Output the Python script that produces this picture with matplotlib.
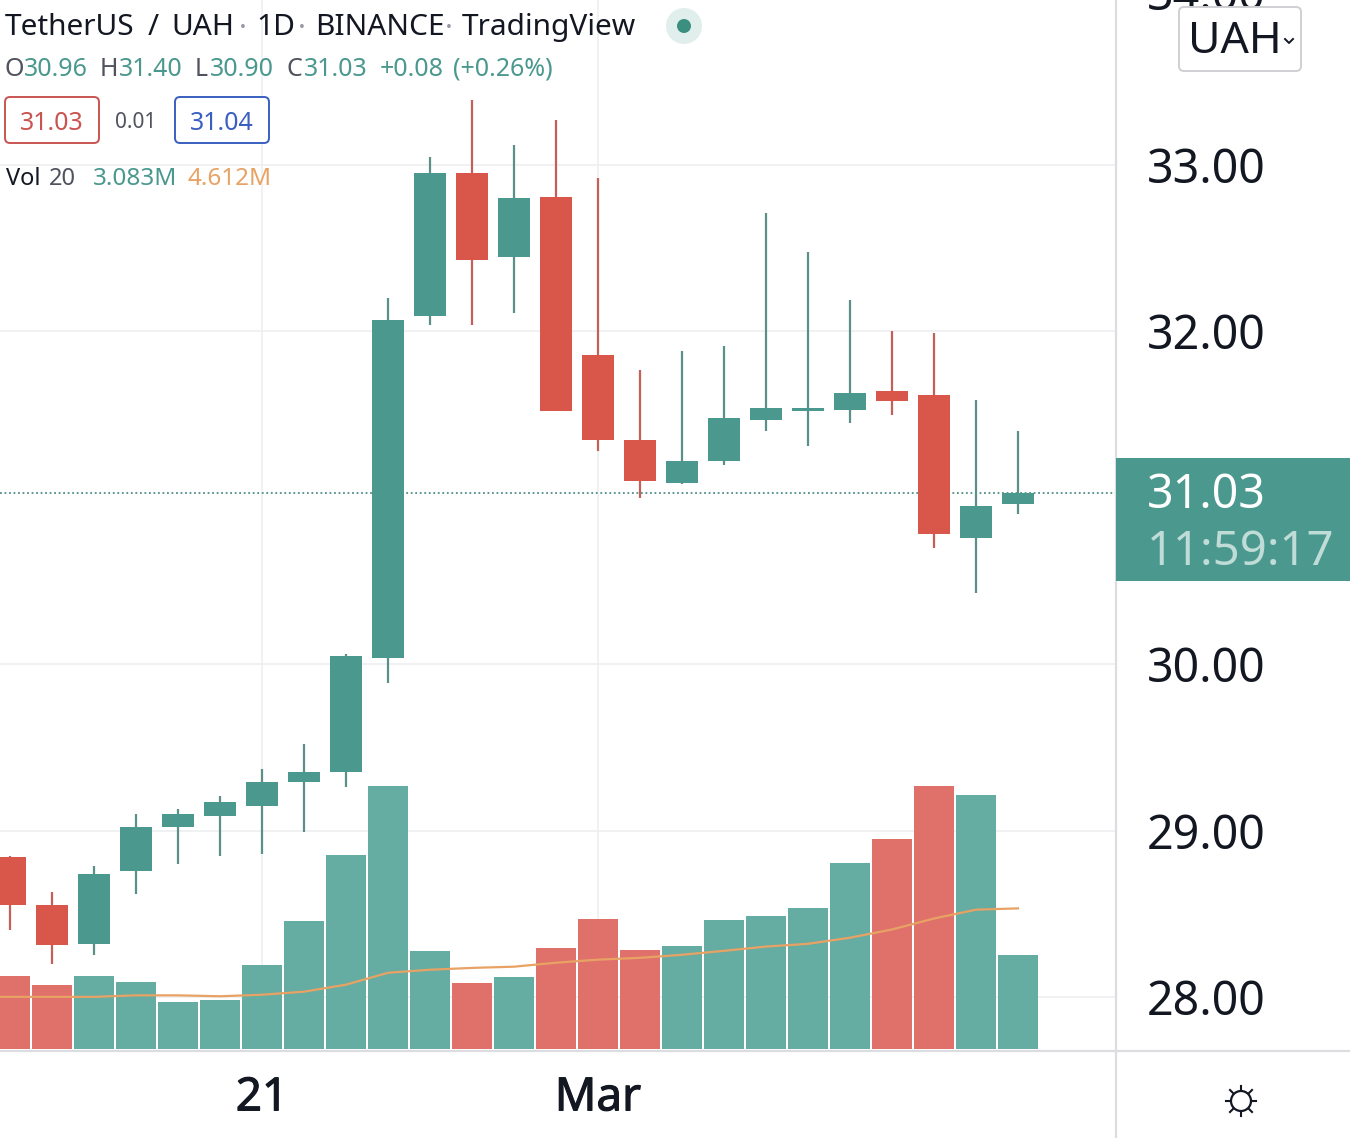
import matplotlib
matplotlib.use("Agg")
import matplotlib.pyplot as plt
import matplotlib.patheffects as pe
from matplotlib.lines import Line2D
from matplotlib.patches import FancyBboxPatch, Rectangle, Circle

plt.rcParams['font.family'] = ['Noto Sans', 'DejaVu Sans']

# -------------------------------
# Data
# -------------------------------
opens = [28.84, 28.55, 28.32, 28.76, 29.02, 29.09, 29.15, 29.29, 29.35, 30.04, 32.09, 32.95, 32.45,
         32.81, 31.86, 31.35, 31.09, 31.22, 31.47, 31.52, 31.53, 31.64, 31.62, 30.76, 30.96]
closes = [28.55, 28.31, 28.74, 29.02, 29.10, 29.17, 29.29, 29.35, 30.05, 32.07, 32.95, 32.43, 32.80,
          31.52, 31.35, 31.10, 31.22, 31.48, 31.54, 31.54, 31.63, 31.58, 30.78, 30.95, 31.03]
highs = [28.85, 28.63, 28.79, 29.10, 29.13, 29.21, 29.37, 29.52, 30.06, 32.20, 33.05, 33.39, 33.12,
         33.27, 32.92, 31.77, 31.88, 31.91, 32.71, 32.48, 32.19, 32.00, 31.99, 31.59, 31.40]
lows = [28.40, 28.20, 28.25, 28.62, 28.80, 28.85, 28.86, 28.99, 29.26, 29.89, 32.04, 32.04, 32.11,
        31.52, 31.28, 31.00, 31.08, 31.20, 31.40, 31.31, 31.45, 31.50, 30.70, 30.43, 30.90]
volumes = [2.39, 2.10, 2.39, 2.20, 1.54, 1.61, 2.75, 4.20, 6.36, 8.63, 3.21, 2.16, 2.36,
           3.31, 4.26, 3.25, 3.38, 4.23, 4.36, 4.62, 6.10, 6.89, 8.63, 8.33, 3.083]
# starts one day earlier, the line runs off the left edge
vol_ma = [1.71, 1.71, 1.71, 1.71, 1.76, 1.76, 1.73, 1.78, 1.88, 2.11, 2.50, 2.60, 2.66, 2.70,
          2.83, 2.93, 2.99, 3.09, 3.22, 3.36, 3.45, 3.65, 3.92, 4.28, 4.57, 4.612]

price_ticks = [28, 29, 30, 32, 33]
price_labels = ["28.00", "29.00", "30.00", "32.00", "33.00"]
date_ticks = [6, 14]
date_labels = ["21", "Mar"]

GREEN = "#4a988e"
RED = "#d9564a"
GREEN_WICK = "#5b9089"
RED_WICK = "#c4605a"
GREEN_VOL = "#65aca2"
RED_VOL = "#e0706a"
ORANGE = "#e8a264"
GRID = "#eeeff1"
LINE = "#dcdde0"
DARK = "#131722"
GREY = "#50535e"

fig = plt.figure(figsize=(13.5, 11.38), dpi=100)

# -------------------------------
# Candles
# -------------------------------
ax = fig.add_axes([0, 1 - 1049 / 1138, 1116 / 1350, 1049 / 1138])
xs = list(range(len(opens)))
up = [c >= o for o, c in zip(opens, closes)]

ax.vlines(xs, lows, highs, colors=[GREEN_WICK if u else RED_WICK for u in up], linewidth=1.6, zorder=3)
ax.bar(xs, [abs(c - o) for o, c in zip(opens, closes)], bottom=[min(o, c) for o, c in zip(opens, closes)],
       width=32 / 42, color=[GREEN if u else RED for u in up], zorder=4)
ax.axhline(closes[-1], color="#4f8f88", linestyle=(0, (1, 1.5)), linewidth=1.3, zorder=2)

ax.set_xlim(-10 / 42, 1106 / 42)
ax.set_ylim(33 - 884 / 166.4, 33 + 165 / 166.4)
ax.set_xticks(date_ticks, date_labels)
ax.tick_params(axis='x', length=0, pad=19, labelsize=33, labelcolor=DARK)
for lab in ax.get_xticklabels():
    lab.set_path_effects([pe.withStroke(linewidth=0.8, foreground=DARK)])
ax.grid(True, color=GRID, linewidth=1.2, zorder=0)
ax.set_axisbelow(True)
for s in ax.spines.values():
    s.set_visible(False)

# -------------------------------
# Volume
# -------------------------------
ax_vol = ax.twinx()
ax_vol.bar(xs, volumes, width=40 / 42, color=[GREEN_VOL if u else RED_VOL for u in up], zorder=2)
ax_vol.plot(range(-1, len(opens)), vol_ma, color=ORANGE, linewidth=1.6, zorder=3)
ax_vol.set_ylim(0, 1049 * 0.0328)
ax_vol.set_yticks([])
ax_vol.patch.set_visible(False)
for s in ax_vol.spines.values():
    s.set_visible(False)

# twinx puts the price ticks back on the left
ax.yaxis.tick_right()
ax.set_yticks(price_ticks, price_labels)
ax.set_ylim(33 - 884 / 166.4, 33 + 165 / 166.4)
ax.tick_params(axis='y', length=0, pad=22, labelsize=33.5, labelcolor=DARK)

# -------------------------------
# Overlay in pixels: legend, price label, buttons
# -------------------------------
ui = fig.add_axes([0, 0, 1, 1], zorder=10)
ui.set_xlim(0, 1350)
ui.set_ylim(1138, 0)
ui.axis('off')
ui.patch.set_visible(False)

ui.add_line(Line2D([1116, 1116], [0, 1138], color=LINE, linewidth=1.6, zorder=1))
ui.add_line(Line2D([0, 1350], [1051, 1051], color=LINE, linewidth=1.6, zorder=1))


def label(x, y, s, color=DARK, size=18, ha='left'):
    ui.text(x, y, s, color=color, fontsize=size, ha=ha, va='center')


title_parts = [(5, "TetherUS"), (148, "/"), (171, "UAH"), (256, "1D"), (315, "BINANCE"), (462, "TradingView")]
for x, s in title_parts:
    label(x, 27, s, size=21.5)
for x in (243, 302, 449):
    label(x, 28, "·", color="#9598a1", size=21, ha='center')

ui.add_patch(Circle((684, 26), 18, color="#e0efec", lw=0))
ui.add_patch(Circle((684, 26), 7, color="#3a8f7f", lw=0))

ohlc_parts = [(5, "O", GREY), (24, "30.96", GREEN), (100, "H", GREY), (119, "31.40", GREEN),
              (195, "L", GREY), (210, "30.90", GREEN), (287, "C", GREY), (304, "31.03", GREEN),
              (380, "+0.08", GREEN), (453, "(+0.26%)", GREEN)]
for x, s, c in ohlc_parts:
    label(x, 69, s, color=c, size=18)

for x0, x1, c, s in [(5, 99, "#c9544f", "31.03"), (175, 269, "#3a5fc0", "31.04")]:
    ui.add_patch(FancyBboxPatch((x0 + 5, 102), x1 - x0 - 10, 36, boxstyle="round,pad=5", fc="white", ec=c, lw=1.4))
    label((x0 + x1) / 2, 123, s, color=c, size=18, ha='center')
label(136, 122, "0.01", color=GREY, size=15, ha='center')

label(6, 179, "Vol", size=17)
label(49, 179, "20", color=GREY, size=17)
label(93, 179, "3.083M", color=GREEN, size=17.5)
label(187, 179, "4.612M", color=ORANGE, size=17.5)

# current price tag
ui.add_patch(Rectangle((1116, 458), 234, 123, color=GREEN, lw=0, zorder=2))
ui.text(1147, 495, "31.03", color="white", fontsize=33.5, ha='left', va='center', zorder=3)
ui.text(1147, 552, "11:59:17", color="#bfdcd7", fontsize=34, ha='left', va='center', zorder=3)

# top price label, cut by the frame and partly under the button
ui.text(1147, -3, "34.00", color=DARK, fontsize=33.5, ha='left', va='center', zorder=1)

# currency button
ui.add_patch(FancyBboxPatch((1184, 12), 112, 54, boxstyle="round,pad=5", fc="white", ec="#cfd0d3", lw=1.4, zorder=4))
ui.text(1188, 42, "UAH", color=DARK, fontsize=32, ha='left', va='center', zorder=5)
ui.add_line(Line2D([1285, 1289, 1293], [39, 43, 39], color=DARK, linewidth=1.4, zorder=5))

# theme icon
ui.add_patch(Circle((1241, 1101), 10, fc="white", ec=DARK, lw=1.6))
for dx, dy in [(15, 0), (-15, 0), (0, 15), (0, -15), (11, 11), (-11, 11), (11, -11), (-11, -11)]:
    ui.add_line(Line2D([1241 + dx * 0.75, 1241 + dx], [1101 + dy * 0.75, 1101 + dy], color=DARK, linewidth=1.5))

fig.savefig("out.png", dpi=100)
